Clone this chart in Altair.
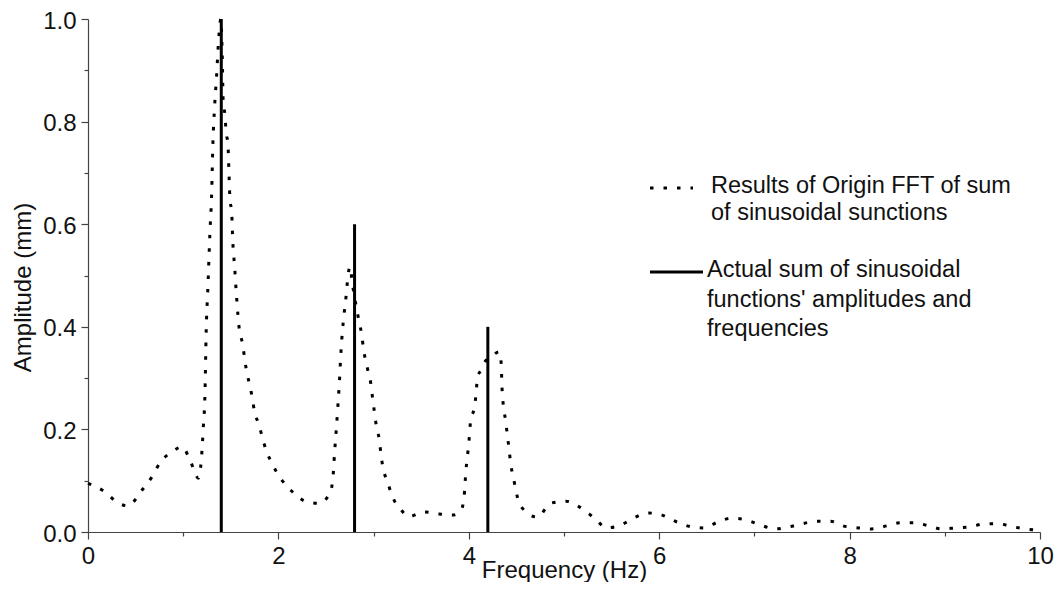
import altair as alt
import pandas as pd

# FFT result (dotted curve)
fft_freq = [0.00, 0.18, 0.32, 0.42, 0.56, 0.67, 0.76, 0.88, 0.99, 1.08, 1.16, 1.19, 1.21, 1.23,
            1.24, 1.26, 1.28, 1.30, 1.31, 1.33, 1.35, 1.37, 1.395, 1.41, 1.42, 1.44, 1.45, 1.47,
            1.48, 1.49, 1.51, 1.52, 1.54, 1.56, 1.59, 1.62, 1.66, 1.72, 1.75, 1.79, 1.87, 1.94,
            2.03, 2.15, 2.31, 2.43, 2.54, 2.57, 2.59, 2.62, 2.64, 2.66, 2.68, 2.71, 2.73, 2.75,
            2.78, 2.83, 2.87, 2.90, 2.94, 2.97, 2.99, 3.01, 3.03, 3.06, 3.08, 3.11, 3.15, 3.20,
            3.29, 3.37, 3.53, 3.69, 3.83, 3.92, 3.95, 3.97, 4.00, 4.02, 4.06, 4.08, 4.09, 4.13,
            4.16, 4.23, 4.32, 4.34, 4.35, 4.39, 4.42, 4.44, 4.48, 4.50, 4.56, 4.72, 4.86, 5.02,
            5.16, 5.32, 5.45, 5.60, 5.73, 5.89, 6.03, 6.18, 6.34, 6.47, 6.62, 6.76, 6.92, 7.06,
            7.22, 7.36, 7.50, 7.65, 7.80, 7.93, 8.09, 8.23, 8.39, 8.53, 8.69, 8.83, 8.97, 9.12,
            9.27, 9.42, 9.56, 9.72, 9.85, 10.00]
fft_amp = [0.095, 0.078, 0.056, 0.051, 0.080, 0.107, 0.136, 0.156, 0.166, 0.136, 0.105, 0.14, 0.20, 0.28,
           0.38, 0.48, 0.58, 0.667, 0.745, 0.83, 0.887, 0.953, 1.0, 0.93, 0.84, 0.81, 0.78, 0.757,
           0.705, 0.653, 0.62, 0.57, 0.517, 0.46, 0.394, 0.37, 0.32, 0.267, 0.234, 0.212, 0.16, 0.131,
           0.103, 0.078, 0.058, 0.056, 0.076, 0.10, 0.154, 0.232, 0.29, 0.36, 0.407, 0.458, 0.497, 0.517,
           0.48, 0.427, 0.39, 0.35, 0.315, 0.29, 0.26, 0.232, 0.205, 0.18, 0.147, 0.117, 0.095, 0.068,
           0.043, 0.03, 0.039, 0.035, 0.033, 0.043, 0.068, 0.12, 0.173, 0.218, 0.244, 0.277, 0.302, 0.316,
           0.329, 0.341, 0.351, 0.329, 0.277, 0.212, 0.166, 0.134, 0.095, 0.076, 0.047, 0.029, 0.056, 0.06,
           0.049, 0.027, 0.008, 0.014, 0.027, 0.037, 0.033, 0.02, 0.01, 0.008, 0.02, 0.027, 0.023, 0.014,
           0.006, 0.01, 0.016, 0.021, 0.021, 0.012, 0.008, 0.006, 0.012, 0.018, 0.018, 0.012, 0.006, 0.008,
           0.01, 0.016, 0.016, 0.01, 0.006, 0.003]

# Actual sinusoid components (solid sticks)
comp_freq = [1.4, 2.8, 4.2]
comp_amp = [1.0, 0.6, 0.4]

x_ticks = [0, 1, 2, 3, 4, 5, 6, 7, 8, 9, 10]
y_ticks = [0.0, 0.1, 0.2, 0.3, 0.4, 0.5, 0.6, 0.7, 0.8, 0.9, 1.0]

legend_fft = ["Results of Origin FFT of sum", "of sinusoidal sunctions"]
legend_actual = ["Actual sum of sinusoidal", "functions' amplitudes and", "frequencies"]

FONT = "Liberation Sans"

fft_df = pd.DataFrame({"f": fft_freq, "a": fft_amp})
comp_df = pd.DataFrame({"f": comp_freq, "a": comp_amp})
one = pd.DataFrame({"k": [0]})

xscale = alt.Scale(domain=[0, 10], nice=False, zero=False)
yscale = alt.Scale(domain=[0, 1.0], nice=False)

xmajor = "datum.value % 2 === 0"
ymajor = "abs(datum.value*5 - round(datum.value*5)) < 0.001"

xaxis = alt.Axis(
    title="Frequency (Hz)", values=x_ticks, grid=False, format="d",
    labelExpr=xmajor + " ? datum.label : ''",
    tickSize={"condition": {"test": xmajor, "value": 7}, "value": 4},
    labelPadding=5, labelFlush=False,
    titleY=45, titleBaseline="alphabetic",
)
yaxis = alt.Axis(
    title="Amplitude (mm)", values=y_ticks, grid=False, format=".1f",
    labelExpr=ymajor + " ? datum.label : ''",
    tickSize={"condition": {"test": ymajor, "value": 7}, "value": 4},
    labelPadding=5, labelFlush=False, labelOffset=2,
    titleX=-58, titleY=268, titleBaseline="alphabetic", titleAlign="center",
)

fft = alt.Chart(fft_df).mark_line(
    color="black", strokeWidth=3, strokeDash=[3.5, 10], interpolate="monotone"
).encode(
    x=alt.X("f:Q", scale=xscale, axis=xaxis),
    y=alt.Y("a:Q", scale=yscale, axis=yaxis),
)

sticks = alt.Chart(comp_df).mark_rule(color="black", strokeWidth=3).encode(
    x=alt.X("f:Q", scale=xscale),
    y=alt.Y("a:Q", scale=yscale),
    y2=alt.datum(0),
)

leg_dot = alt.Chart(one).mark_rule(color="black", strokeWidth=3, strokeDash=[3.5, 10]).encode(
    x=alt.value(562), x2=alt.value(605), y=alt.value(169)
)
leg_solid = alt.Chart(one).mark_rule(color="black", strokeWidth=3).encode(
    x=alt.value(562), x2=alt.value(615), y=alt.value(253)
)
leg_txt1 = alt.Chart(one).mark_text(
    text=legend_fft, align="left", baseline="alphabetic", fontSize=23.5, lineHeight=27,
    font=FONT, color="#111"
).encode(x=alt.value(623), y=alt.value(174))
leg_txt2 = alt.Chart(one).mark_text(
    text=legend_actual, align="left", baseline="alphabetic", fontSize=23.5, lineHeight=29.5,
    font=FONT, color="#111"
).encode(x=alt.value(619), y=alt.value(258))

chart = alt.layer(fft, sticks, leg_dot, leg_solid, leg_txt1, leg_txt2).properties(
    width=952, height=513,
    autosize=alt.AutoSizeParams(type="none"),
    padding={"left": 80, "top": 11, "right": 14, "bottom": 50},
).configure_view(stroke=None).configure_axis(
    domainColor="#444", tickColor="#444", domainWidth=1.2, tickWidth=1.2,
    labelFont=FONT, titleFont=FONT, labelFontSize=24, titleFontSize=24,
    labelColor="#111", titleColor="#111", titleFontWeight="normal",
)

chart.save("out.html", embed_options={"renderer": "svg", "actions": False})
